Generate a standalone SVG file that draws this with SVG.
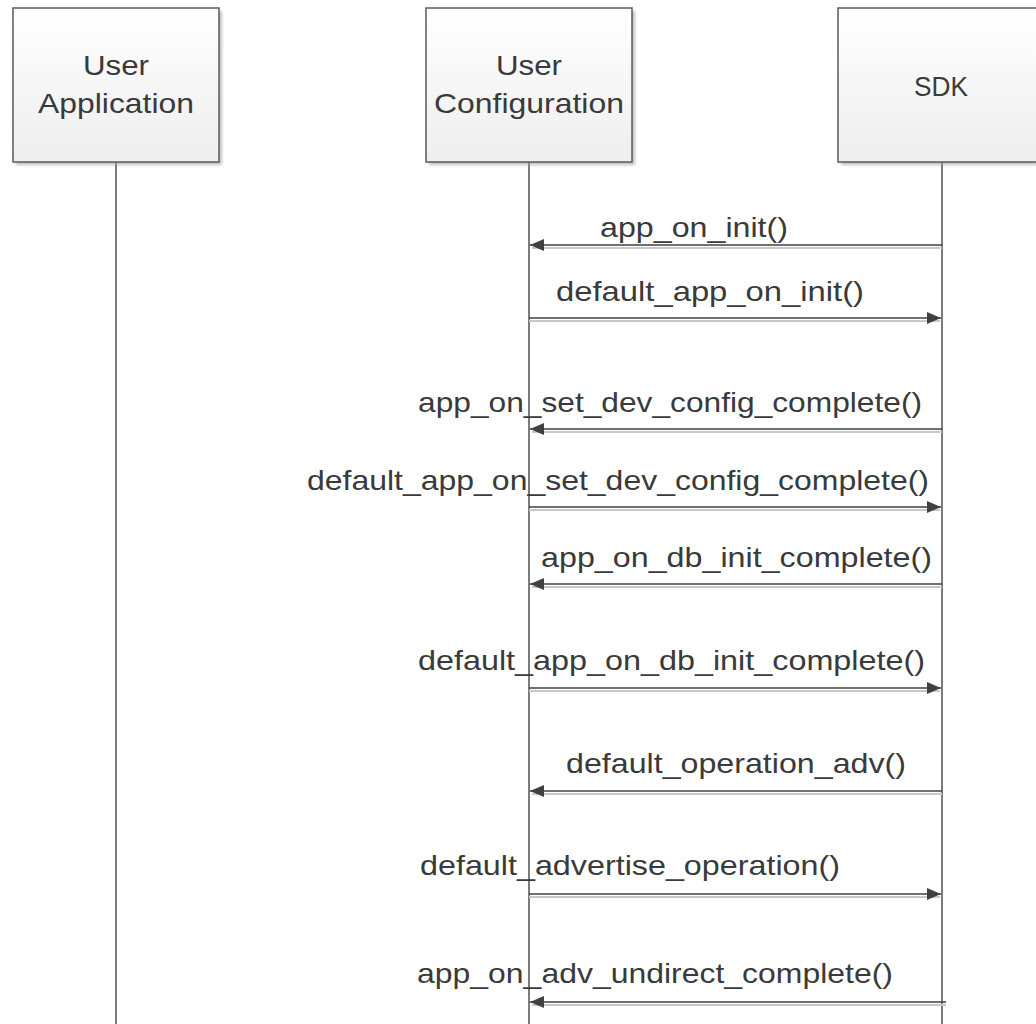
<svg xmlns="http://www.w3.org/2000/svg" width="1036" height="1024" viewBox="0 0 1036 1024">
<defs>
<linearGradient id="boxg" x1="0" y1="0" x2="0" y2="1">
<stop offset="0" stop-color="#ffffff"/>
<stop offset="1" stop-color="#eeeeee"/>
</linearGradient>
<marker id="ah" markerWidth="14" markerHeight="12" refX="14" refY="6" orient="auto" markerUnits="userSpaceOnUse">
<path d="M0,0 L14,6 L0,12 Z" fill="#404040"/>
</marker>
<filter id="sh" x="-10%" y="-10%" width="130%" height="130%">
<feGaussianBlur stdDeviation="1.5"/>
</filter>
</defs>
<style>
.box{fill:url(#boxg);stroke:#5a5a5a;stroke-width:1.5}
.shadow{fill:#9a9a9a;opacity:0.6}
.life{stroke:#505050;stroke-width:1.5;fill:none}
.msg{stroke:#404040;stroke-width:1.5;fill:none}
.msgsh{stroke:#c8c8c8;stroke-width:2;fill:none}
.lbl{font-family:"Liberation Sans",Arial,sans-serif;font-size:28px;fill:#3a3a3a}
.nl{font-family:"Liberation Sans",Arial,sans-serif;font-size:28px;fill:#3a3a3a;text-anchor:middle}
</style>
<rect width="1036" height="1024" fill="#ffffff"/>
<g id="lifelines">
<line class="life" x1="116" y1="162" x2="116" y2="1024"/>
<line class="life" x1="529" y1="162" x2="529" y2="1024"/>
<line class="life" x1="942" y1="162" x2="942" y2="1024"/>
</g>
<g id="node-user-application">
<rect class="shadow" x="16" y="11" width="206" height="154" filter="url(#sh)"/>
<rect class="box" x="13" y="8" width="206" height="154"/>
<text class="nl" x="116" y="75" textLength="66" lengthAdjust="spacingAndGlyphs">User</text>
<text class="nl" x="116" y="113" textLength="156" lengthAdjust="spacingAndGlyphs">Application</text>
</g>
<g id="node-user-configuration">
<rect class="shadow" x="429" y="11" width="206" height="154" filter="url(#sh)"/>
<rect class="box" x="426" y="8" width="206" height="154"/>
<text class="nl" x="529" y="75" textLength="66" lengthAdjust="spacingAndGlyphs">User</text>
<text class="nl" x="529" y="113" textLength="190" lengthAdjust="spacingAndGlyphs">Configuration</text>
</g>
<g id="node-sdk">
<rect class="shadow" x="841" y="11" width="206" height="154" filter="url(#sh)"/>
<rect class="box" x="838" y="8" width="206" height="154"/>
<text class="nl" x="941" y="96" textLength="54" lengthAdjust="spacingAndGlyphs">SDK</text>
</g>
<g id="connectors">
<line class="msgsh" x1="942" y1="248" x2="532" y2="248"/>
<line class="msg" x1="942" y1="245" x2="530" y2="245" marker-end="url(#ah)"/>
<line class="msgsh" x1="529" y1="321" x2="940" y2="321"/>
<line class="msg" x1="529" y1="318" x2="941" y2="318" marker-end="url(#ah)"/>
<line class="msgsh" x1="942" y1="432" x2="532" y2="432"/>
<line class="msg" x1="942" y1="429" x2="530" y2="429" marker-end="url(#ah)"/>
<line class="msgsh" x1="529" y1="510" x2="940" y2="510"/>
<line class="msg" x1="529" y1="507" x2="941" y2="507" marker-end="url(#ah)"/>
<line class="msgsh" x1="942" y1="587" x2="532" y2="587"/>
<line class="msg" x1="942" y1="584" x2="530" y2="584" marker-end="url(#ah)"/>
<line class="msgsh" x1="529" y1="691" x2="940" y2="691"/>
<line class="msg" x1="529" y1="688" x2="941" y2="688" marker-end="url(#ah)"/>
<line class="msgsh" x1="942" y1="794" x2="532" y2="794"/>
<line class="msg" x1="942" y1="791" x2="530" y2="791" marker-end="url(#ah)"/>
<line class="msgsh" x1="529" y1="897" x2="940" y2="897"/>
<line class="msg" x1="529" y1="894" x2="941" y2="894" marker-end="url(#ah)"/>
<line class="msgsh" x1="946" y1="1005" x2="532" y2="1005"/>
<line class="msg" x1="946" y1="1002" x2="530" y2="1002" marker-end="url(#ah)"/>
<text class="lbl" x="600" y="237" textLength="188" lengthAdjust="spacingAndGlyphs">app_on_init()</text>
<text class="lbl" x="556" y="301" textLength="308" lengthAdjust="spacingAndGlyphs">default_app_on_init()</text>
<text class="lbl" x="418" y="412" textLength="504" lengthAdjust="spacingAndGlyphs">app_on_set_dev_config_complete()</text>
<text class="lbl" x="307" y="490" textLength="622" lengthAdjust="spacingAndGlyphs">default_app_on_set_dev_config_complete()</text>
<text class="lbl" x="541" y="567" textLength="391" lengthAdjust="spacingAndGlyphs">app_on_db_init_complete()</text>
<text class="lbl" x="418" y="670" textLength="507" lengthAdjust="spacingAndGlyphs">default_app_on_db_init_complete()</text>
<text class="lbl" x="566" y="773" textLength="340" lengthAdjust="spacingAndGlyphs">default_operation_adv()</text>
<text class="lbl" x="420" y="875" textLength="420" lengthAdjust="spacingAndGlyphs">default_advertise_operation()</text>
<text class="lbl" x="417" y="983" textLength="476" lengthAdjust="spacingAndGlyphs">app_on_adv_undirect_complete()</text>
</g>
</svg>
